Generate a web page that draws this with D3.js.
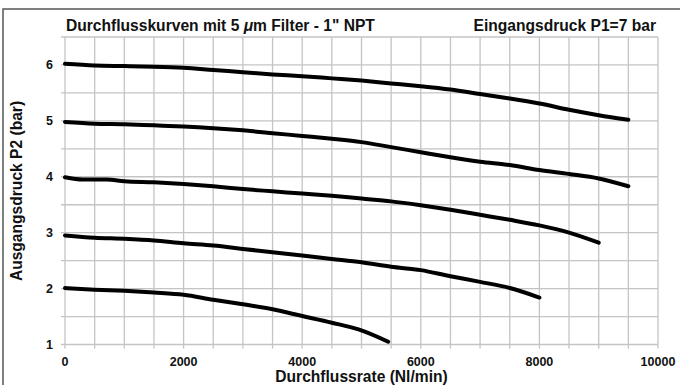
<!DOCTYPE html>
<html><head><meta charset="utf-8">
<script src="https://cdn.jsdelivr.net/npm/d3@7"></script>
<style>
body{margin:0;background:#fff;}
text{font-family:"Liberation Sans",Arial,sans-serif;font-weight:bold;fill:#111;}
</style></head>
<body><svg id="c" width="680" height="385"></svg>
<script>
const title = "Durchflusskurven mit 5 μm Filter - 1\" NPT";
const subtitle = "Eingangsdruck P1=7 bar";
const xLabel = "Durchflussrate (Nl/min)";
const yLabel = "Ausgangsdruck P2 (bar)";
const xTicks = [0,2000,4000,6000,8000,10000];
const yTicks = [1,2,3,4,5,6];
const curve6 = [[0,6.02],[500,5.99],[1000,5.98],[1500,5.97],[2000,5.95],[2500,5.91],[3000,5.87],[3500,5.83],[4000,5.80],[4500,5.76],[5000,5.72],[5500,5.67],[6000,5.62],[6500,5.56],[7000,5.48],[7500,5.40],[8000,5.31],[8500,5.20],[9000,5.10],[9500,5.02]];
const curve5 = [[0,4.98],[500,4.95],[1000,4.94],[1500,4.92],[2000,4.90],[2500,4.87],[3000,4.83],[3500,4.78],[4000,4.73],[4500,4.68],[5000,4.62],[5500,4.53],[6000,4.44],[6500,4.35],[7000,4.27],[7500,4.21],[8000,4.12],[8500,4.05],[9000,3.97],[9500,3.83]];
const curve4 = [[0,3.99],[300,3.95],[700,3.95],[1000,3.92],[1500,3.90],[2000,3.87],[2500,3.83],[3000,3.78],[3500,3.74],[4000,3.70],[4500,3.66],[5000,3.61],[5500,3.56],[6000,3.49],[6500,3.41],[7000,3.32],[7500,3.23],[8000,3.13],[8500,3.00],[9000,2.82]];
const curve3 = [[0,2.95],[500,2.91],[1000,2.89],[1500,2.86],[2000,2.81],[2500,2.77],[3000,2.71],[3500,2.65],[4000,2.59],[4500,2.53],[5000,2.47],[5500,2.39],[6000,2.33],[6500,2.22],[7000,2.12],[7500,2.01],[8000,1.84]];
const curve2 = [[0,2.01],[500,1.98],[1000,1.96],[1500,1.93],[2000,1.89],[2500,1.80],[3000,1.72],[3500,1.63],[4000,1.51],[4500,1.39],[4950,1.27],[5450,1.05]];
const curves = [curve6, curve5, curve4, curve3, curve2];

const svg = d3.select("#c");
const L=65, R=658, T=37, B=344.5;
const x = d3.scaleLinear().domain([0,10000]).range([L,R]);
const y = d3.scaleLinear().domain([1,6.5]).range([B,T]);

// outer frame (top + left)
svg.append("path").attr("d","M3,385 L3,9 L680,9").attr("fill","none").attr("stroke","#555").attr("stroke-width",1.5);

// grid
const g = svg.append("g");
d3.range(0,10001,500).forEach(v=>{
  g.append("line").attr("x1",x(v)).attr("x2",x(v)).attr("y1",T).attr("y2",B+4)
   .attr("stroke","#c4c4c4").attr("stroke-width",1.3);
});
d3.range(1,6.51,0.5).forEach(v=>{
  g.append("line").attr("x1",L-4).attr("x2",R).attr("y1",y(v)).attr("y2",y(v))
   .attr("stroke","#c4c4c4").attr("stroke-width",1.3);
});

// tick labels
svg.append("g").selectAll("text").data(yTicks).join("text")
  .attr("x",53).attr("y",d=>y(d)).attr("dy","0.36em").attr("text-anchor","end")
  .attr("font-size",12.5).text(d=>d);
svg.append("g").selectAll("text").data(xTicks).join("text")
  .attr("x",d=>x(d)).attr("y",361).attr("dy","0.36em").attr("text-anchor","middle")
  .attr("font-size",12.5).text(d=>d);

// curves
const line = d3.line().x(d=>x(d[0])).y(d=>y(d[1])).curve(d3.curveMonotoneX);
svg.append("g").selectAll("path").data(curves).join("path")
  .attr("d",line).attr("fill","none").attr("stroke","#000").attr("stroke-width",4)
  .attr("stroke-linecap","round").attr("stroke-linejoin","round");

// titles
const t = svg.append("text").attr("x",66).attr("y",31).attr("font-size",15.6);
t.append("tspan").text("Durchflusskurven mit 5 ");
t.append("tspan").attr("font-style","italic").text("μ");
t.append("tspan").text("m Filter - 1\" NPT");
svg.append("text").attr("x",656).attr("y",31).attr("text-anchor","end").attr("font-size",15.6).text(subtitle);
svg.append("text").attr("x",x(5000)).attr("y",382).attr("text-anchor","middle").attr("font-size",15.6).text(xLabel);
svg.append("text").attr("transform","translate(22,191) rotate(-90)").attr("text-anchor","middle").attr("font-size",15.6).text(yLabel);
</script></body></html>
